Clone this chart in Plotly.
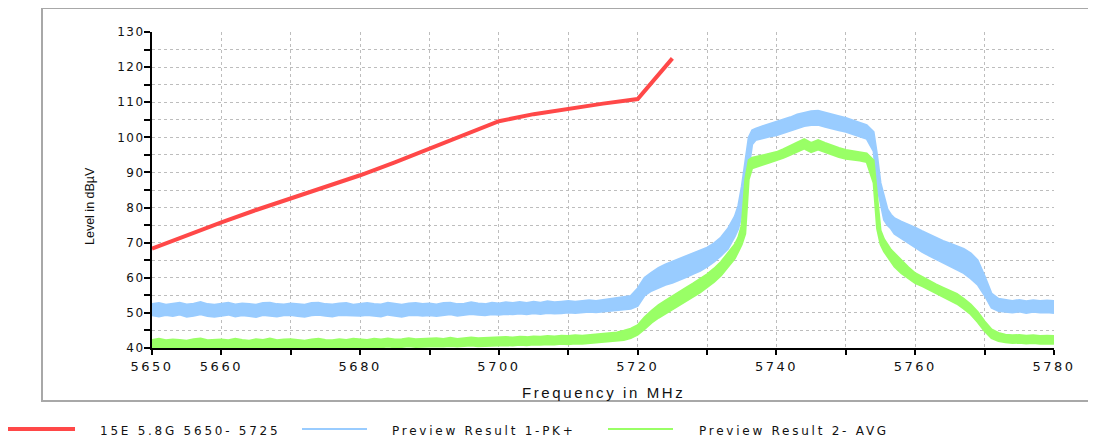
import plotly.graph_objects as go

# ---------------- data ----------------
# frequency grid (MHz) shared by the two measured (noisy) traces
freq_mhz = (list(range(5650, 5734))
            + [5734, 5734.5, 5735, 5735.5, 5736, 5736.5]
            + list(range(5737, 5754))
            + [5754, 5754.5, 5755, 5755.5, 5756, 5756.5]
            + list(range(5757, 5781)))

# Preview Result 1-PK+ : upper / lower edge of the noise band (dBµV)
pk_hi = [
    52.5, 52.8, 52.3, 52.6, 52.9, 52.4, 52.6, 53.1, 52.5, 52.3,
    52.6, 52.9, 52.4, 52.7, 52.5, 52.3, 52.8, 52.9, 52.5, 52.4,
    52.7, 52.5, 52.3, 52.8, 52.9, 52.5, 52.4, 52.7, 52.8, 52.3,
    52.6, 52.8, 52.5, 52.4, 52.9, 52.6, 52.3, 52.7, 52.8, 52.5,
    52.7, 52.4, 52.8, 52.9, 52.5, 52.6, 53.0, 52.7, 52.5, 52.9,
    52.7, 53.0, 52.8, 53.1, 52.8, 53.2, 52.9, 53.3, 53.0, 53.2,
    53.4, 53.2, 53.5, 53.6, 53.4, 53.7, 53.9, 54.1, 54.4, 54.8,
    57.0, 60.0, 61.5, 62.8, 63.8, 64.6, 65.2, 66.0, 66.8, 67.6, 68.6, 69.8, 71.5, 74.0,
    77.5, 80.5, 86.0, 93.0, 100.0, 102.0,
    102.5, 103.2, 103.8, 104.5, 105.0, 105.7, 106.5, 107.0, 107.4, 107.6,
    107.0, 106.4, 106.0, 105.5, 104.8, 104.2, 103.5,
    101.5, 95.0, 87.0, 83.0, 79.5, 78.0,
    77.0, 76.0, 75.2, 74.3, 73.3, 72.3, 71.3, 70.5, 69.8, 69.0, 68.2, 67.0,
    65.0, 60.5, 55.5, 54.0, 53.6, 53.4, 53.7, 53.3, 53.6, 53.4, 53.5, 53.4,
]
pk_lo = [
    49.3, 49.0, 49.4, 49.1, 49.5, 48.9, 49.2, 49.6, 49.1, 48.9,
    49.2, 49.5, 49.0, 49.3, 49.1, 48.8, 49.4, 49.2, 49.0, 49.3,
    49.4, 49.1, 48.9, 49.3, 49.5, 49.2, 49.0, 49.4, 49.3, 49.1,
    49.2, 49.4, 49.3, 49.0, 49.5, 49.2, 48.9, 49.3, 49.4, 49.2,
    49.3, 49.1, 49.4, 49.6, 49.2, 49.4, 49.7, 49.5, 49.3, 49.6,
    49.5, 49.7, 49.6, 49.8, 49.6, 49.9, 49.7, 50.0, 49.8, 49.9,
    50.1, 50.0, 50.2, 50.3, 50.2, 50.4, 50.6, 50.7, 50.9, 51.2,
    52.0, 55.0, 56.3, 57.2, 58.0, 58.6, 59.3, 60.2, 61.1, 62.0, 63.2, 64.6, 66.3, 68.2,
    71.8, 74.0, 78.0, 83.0, 91.0, 98.0,
    99.2, 99.8, 100.2, 100.6, 101.2, 101.9, 102.6, 103.2, 103.5, 103.6,
    103.0, 102.4, 102.0, 101.6, 101.0, 100.4, 99.6,
    96.0, 86.0, 81.3, 76.5, 75.0, 74.0,
    72.5, 71.2, 70.0, 68.6, 67.4, 66.3, 65.3, 64.3, 63.3, 62.3, 61.3, 59.8,
    58.0, 55.0, 51.5, 50.5, 50.3, 50.1, 50.4, 50.0, 50.3, 50.1, 50.2, 50.0,
]

# Preview Result 2- AVG : upper / lower edge of the noise band (dBµV)
avg_hi = [
    42.3, 42.6, 42.2, 42.4, 42.3, 42.1, 42.5, 42.7, 42.2, 42.3,
    42.4, 42.2, 42.6, 42.3, 42.1, 42.5, 42.3, 42.7, 42.2, 42.4,
    42.5, 42.3, 42.1, 42.4, 42.6, 42.3, 42.2, 42.5, 42.3, 42.6,
    42.4, 42.3, 42.6, 42.4, 42.7, 42.4, 42.5, 42.8, 42.5, 42.6,
    42.5, 42.8, 42.6, 42.9, 42.6, 42.8, 43.0, 42.8, 42.9, 43.0,
    42.9, 43.1, 43.0, 43.2, 43.1, 43.3, 43.2, 43.4, 43.3, 43.5,
    43.4, 43.6, 43.5, 43.7, 43.8, 43.9, 44.2, 44.4, 44.9, 45.5,
    46.5, 48.8, 50.6, 52.2, 53.5, 54.8, 56.0, 57.2, 58.4, 59.6, 61.0, 62.6, 64.5, 67.0,
    69.5, 71.5, 75.0, 88.0, 93.5, 94.2,
    94.4, 94.9, 95.3, 95.8, 96.6, 97.5, 98.5, 99.5, 98.4, 99.2,
    98.4, 97.6, 97.0, 96.4, 96.1, 95.8, 95.4,
    93.5, 84.0, 73.5, 71.0, 69.5, 68.0,
    67.0, 65.0, 63.0, 61.3, 60.2, 59.1, 58.1, 57.2, 56.4, 55.4, 54.0, 52.4,
    50.3, 47.6, 45.3, 44.3, 43.8, 43.6, 43.7, 43.5, 43.6, 43.4, 43.5, 43.4,
]
avg_lo = [
    40.1, 40.3, 40.0, 40.2, 40.1, 39.9, 40.2, 40.3, 40.0, 40.1,
    40.2, 40.0, 40.3, 40.1, 39.9, 40.2, 40.1, 40.3, 40.0, 40.1,
    40.2, 40.1, 39.9, 40.2, 40.3, 40.1, 40.0, 40.2, 40.1, 40.3,
    40.2, 40.1, 40.3, 40.2, 40.4, 40.2, 40.3, 40.5, 40.3, 40.4,
    40.3, 40.5, 40.4, 40.6, 40.4, 40.5, 40.7, 40.5, 40.6, 40.7,
    40.6, 40.8, 40.7, 40.9, 40.8, 41.0, 40.9, 41.1, 41.0, 41.2,
    41.1, 41.3, 41.2, 41.4, 41.5, 41.6, 41.8, 42.0, 42.3, 42.8,
    43.8, 45.4, 47.2, 48.6, 49.8, 51.0, 52.2, 53.4, 54.6, 55.8, 57.3, 58.8, 60.6, 63.0,
    65.5, 67.5, 69.5, 72.5, 88.0, 91.2,
    91.6, 92.2, 92.8, 93.4, 94.2, 95.0, 95.8, 96.8, 95.8, 96.5,
    95.8, 95.0, 94.4, 93.9, 93.7, 93.4, 93.0,
    87.0, 74.0, 69.5, 67.5, 66.0, 64.5,
    63.2, 61.3, 59.8, 58.5, 57.6, 56.6, 55.6, 54.6, 53.6, 52.6, 51.2, 49.6,
    47.4, 44.8, 42.8, 42.0, 41.6, 41.4, 41.5, 41.3, 41.4, 41.2, 41.3, 41.2,
]

# limit line "15E 5.8G 5650- 5725"
limit_freq = [5650, 5655, 5660, 5665, 5670, 5675, 5680, 5685, 5690, 5695,
              5700, 5705, 5710, 5715, 5720, 5721, 5722, 5723, 5724, 5725]
limit_level = [68.3, 72.2, 75.8, 79.3, 82.6, 85.9, 89.2, 92.9, 96.8, 100.5,
               104.6, 106.6, 108.2, 109.6, 110.9, 113.2, 115.5, 117.8, 120.1, 122.5]

series_names = ["15E 5.8G 5650- 5725", "Preview Result 1-PK+", "Preview Result 2- AVG"]

x_tick_vals = list(range(5650, 5781, 10))
x_tick_text = ["5650", "5660", "", "5680", "", "5700", "", "5720", "", "5740", "", "5760", "", "5780"]
y_tick_vals = list(range(40, 131, 5))
y_tick_text = ["40", "", "50", "", "60", "", "70", "", "80", "", "90", "", "100", "", "110", "", "120", "", "130"]

# ---------------- styling ----------------
OFF = 8                      # page body margin: figure starts at (8, 8) in the window
W, H = 1096 - OFF, 439 - OFF
L, R, T, B = 152, 1054, 32, 348   # plot-area edges in window pixels
RED, BLUE, GREEN = "#ff4848", "#99ccff", "#99ff66"
FONT = "DejaVu Sans, Liberation Sans, Arial, sans-serif"


def px(x):
    return (x - L) / (R - L)


def py(y):
    return (B - y) / (B - T)


def spaced(t, s):
    return f'<span style="letter-spacing:{s}px">{t}</span>' if t else ""


fig = go.Figure()
for lo, hi, col, name in [(pk_lo, pk_hi, BLUE, series_names[1]),
                          (avg_lo, avg_hi, GREEN, series_names[2])]:
    fig.add_trace(go.Scatter(x=freq_mhz, y=lo, mode="lines", name=name,
                             line=dict(color=col, width=2), showlegend=False,
                             hoverinfo="skip"))
    fig.add_trace(go.Scatter(x=freq_mhz, y=hi, mode="lines", name=name,
                             line=dict(color=col, width=2), fill="tonexty",
                             fillcolor=col, showlegend=False))
fig.add_trace(go.Scatter(x=limit_freq, y=limit_level, mode="lines", name=series_names[0],
                         line=dict(color=RED, width=4), showlegend=False))

axis_common = dict(showline=True, linecolor="black", linewidth=2,
                   ticks="outside", tickcolor="black", tickwidth=2,
                   showgrid=True, gridcolor="#bdbdbd", gridwidth=1, griddash="dot",
                   zeroline=False)

fig.update_xaxes(range=[5650, 5780], tickmode="array", tickvals=x_tick_vals,
                 ticktext=[spaced(t, 2.5) for t in x_tick_text], ticklen=5,
                 tickfont=dict(family=FONT, size=13, color="#111"), **axis_common)
fig.update_yaxes(range=[40, 130], tickmode="array", tickvals=y_tick_vals,
                 ticktext=[spaced(t, 1.5) for t in y_tick_text], ticklen=6,
                 ticklabelstandoff=-3,
                 tickfont=dict(family=FONT, size=12, color="#111"), **axis_common)

shapes = [
    dict(type="rect", xref="paper", yref="paper", x0=px(42), x1=px(1090), y0=py(401), y1=py(8),
         line=dict(color="#a8a8a8", width=2), fillcolor="rgba(0,0,0,0)", layer="below"),
]
legend_items = [(5, 75, 98, RED, 4), (302, 367, 390, BLUE, 2), (608, 673, 697, GREEN, 2)]
annotations = []
for (lx0, lx1, tx, col, lw), name in zip(legend_items, series_names):
    shapes.append(dict(type="line", xref="paper", yref="paper", x0=px(lx0), x1=px(lx1),
                       y0=py(429), y1=py(429), line=dict(color=col, width=lw)))
    annotations.append(dict(xref="paper", yref="paper", x=px(tx), y=py(431), xanchor="left",
                            yanchor="middle", showarrow=False, text=spaced(name, 2.75),
                            font=dict(family=FONT, size=12, color="#111")))

annotations.append(dict(xref="paper", yref="paper", x=px(90), y=py(206), textangle=-90,
                        xanchor="center", yanchor="middle", showarrow=False,
                        text="Level in dBµV",
                        font=dict(family="Liberation Sans Narrow, Arial Narrow, Liberation Sans, sans-serif",
                                  size=12.5, color="#111")))
annotations.append(dict(xref="paper", yref="paper", x=px(603), y=py(392), xanchor="center",
                        yanchor="middle", showarrow=False, text=spaced("Frequency in MHz", 2.6),
                        font=dict(family="Liberation Sans, Arial, sans-serif", size=15, color="#111")))

fig.update_layout(width=W, height=H,
                  margin=dict(l=L - OFF, r=(W + OFF) - R, t=T - OFF, b=(H + OFF) - B, pad=0),
                  plot_bgcolor="white", paper_bgcolor="white",
                  shapes=shapes, annotations=annotations, showlegend=False)

fig.write_html("out.html")
